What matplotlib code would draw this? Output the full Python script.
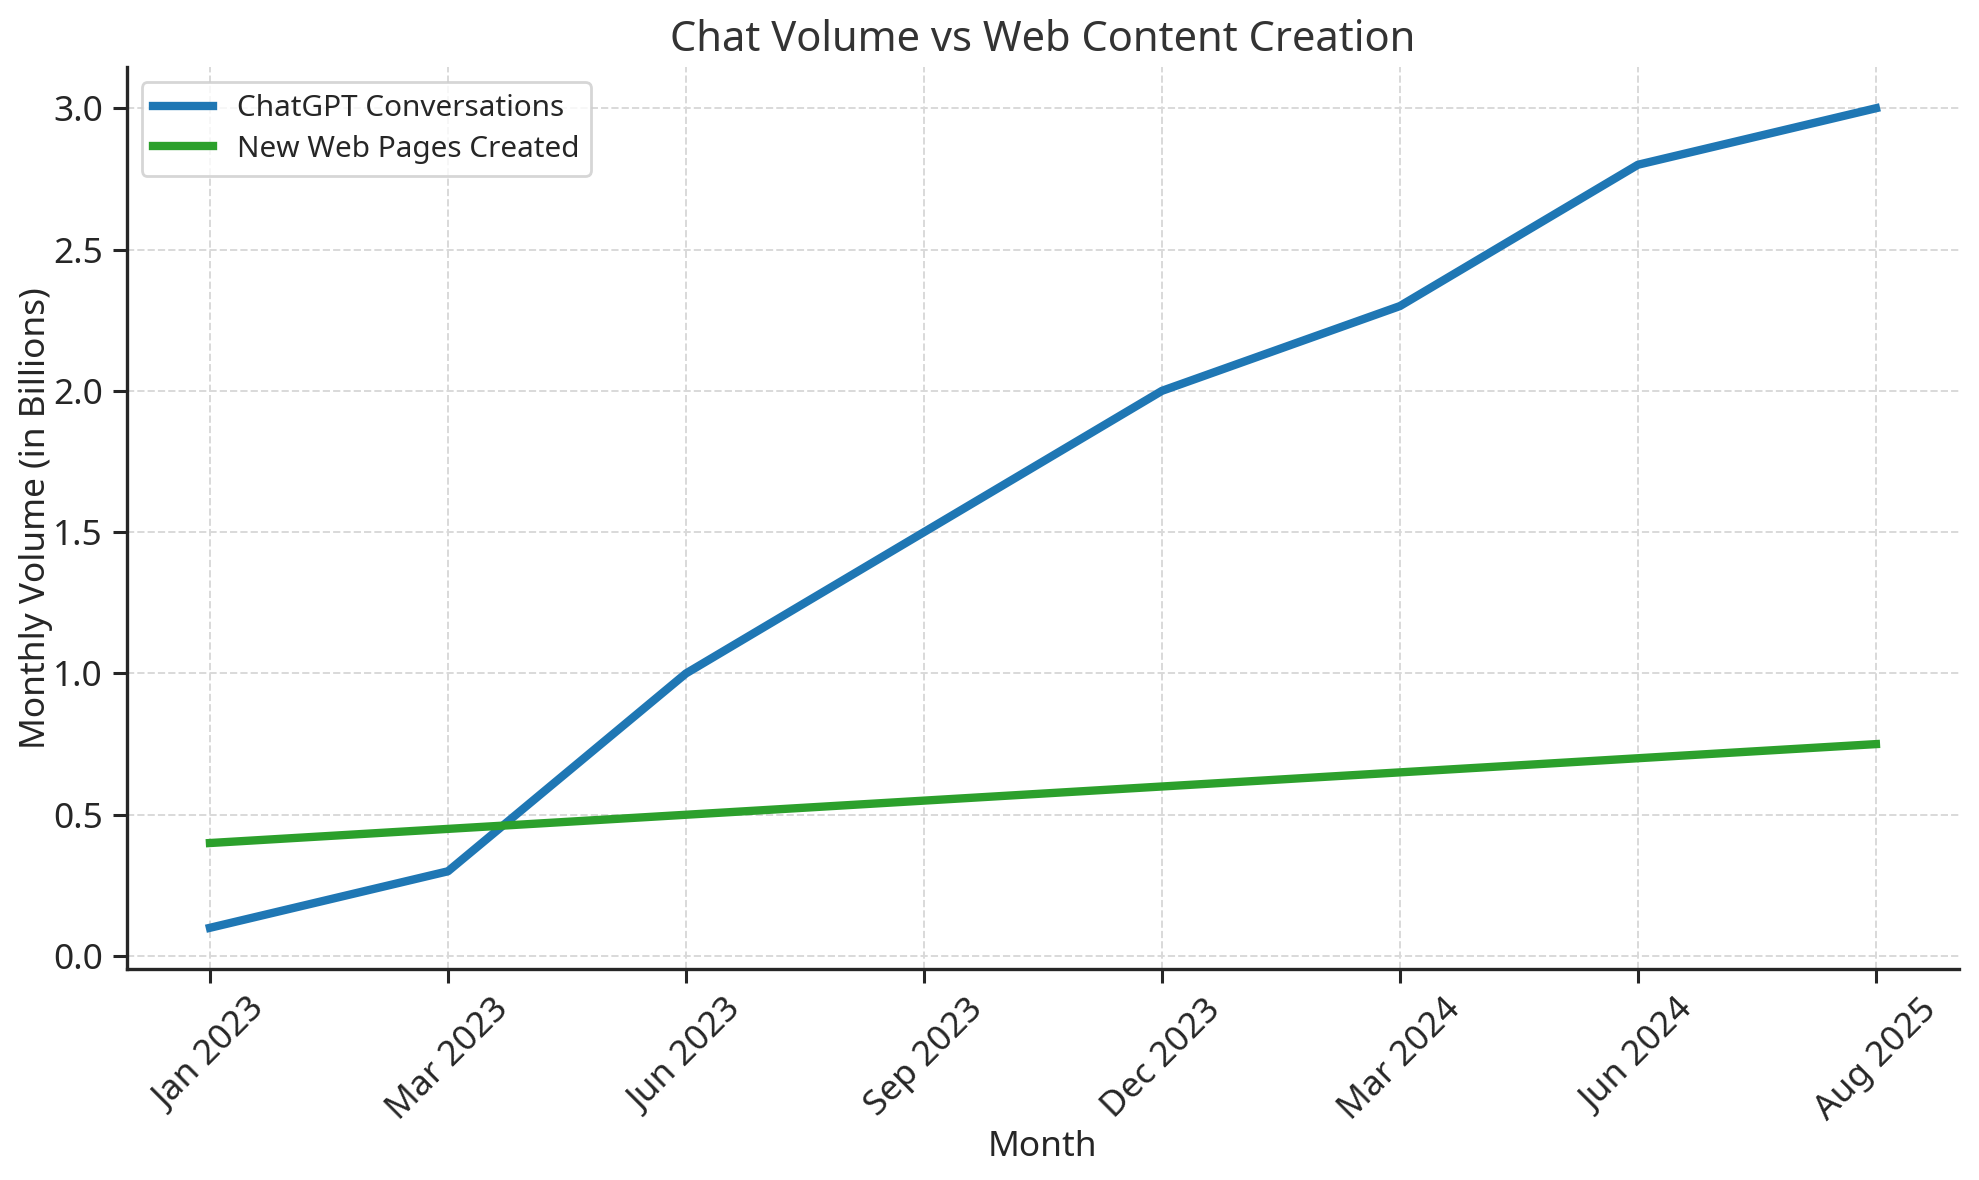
import numpy as np
import matplotlib
matplotlib.use("Agg")
from matplotlib import pyplot as plt

months = ["Jan 2023", "Mar 2023", "Jun 2023", "Sep 2023",
          "Dec 2023", "Mar 2024", "Jun 2024", "Aug 2025"]
chatgpt = [0.1, 0.3, 1.0, 1.5, 2.0, 2.3, 2.8, 3.0]
web_pages = [0.4, 0.45, 0.5, 0.55, 0.6, 0.65, 0.7, 0.75]

plt.rcParams['font.family'] = ['Noto Sans', 'DejaVu Sans']
plt.rcParams['text.color'] = '#262626'
plt.rcParams['axes.labelcolor'] = '#262626'
plt.rcParams['xtick.color'] = '#262626'
plt.rcParams['ytick.color'] = '#262626'

fig = plt.figure(figsize=(9.895, 5.9), dpi=200)
ax = fig.add_axes([0.064, 0.179, 0.926, 0.764])

x = np.arange(len(months))
ax.plot(x, chatgpt, color='#1f77b4', linewidth=3, label='ChatGPT Conversations')
ax.plot(x, web_pages, color='#2ca02c', linewidth=3, label='New Web Pages Created')

ax.set_xticks(x)
ax.set_xticklabels(months, rotation=45, fontsize=12.7)
ax.tick_params(axis='y', labelsize=12.7)
ax.tick_params(length=5, width=1.1)

ax.set_title("Chat Volume vs Web Content Creation", fontsize=15, color='#333333')
ax.set_xlabel("Month", fontsize=12.7, labelpad=1)
ax.set_ylabel("Monthly Volume (in Billions)", fontsize=12.7, labelpad=0)

ax.grid(True, linestyle='--', color='#d9d9d9', linewidth=0.7)
ax.set_axisbelow(True)
for s in ['top', 'right']:
    ax.spines[s].set_visible(False)
for s in ['left', 'bottom']:
    ax.spines[s].set_linewidth(1.2)
    ax.spines[s].set_color('#262626')

leg = ax.legend(loc='upper left', fontsize=10.7, framealpha=0.8,
                edgecolor='#cccccc', labelspacing=0.4)

fig.savefig("out.png", dpi=200)
